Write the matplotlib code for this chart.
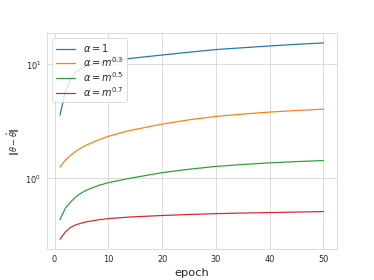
import matplotlib
matplotlib.use("Agg")

import matplotlib.pyplot as plt
import seaborn as sns

# values (log-scale y axis)
epochs = [1, 2, 3, 4, 5, 6, 8, 10, 14, 20, 25, 30, 35, 40, 45, 50]
err_alpha_1 = [3.57, 5.7, 7.4, 8.5, 9.2, 9.7, 10.2, 10.6, 11.2, 12.0,
               12.7, 13.4, 13.9, 14.4, 14.9, 15.3]
err_alpha_m03 = [1.25, 1.44, 1.59, 1.73, 1.85, 1.96, 2.15, 2.33, 2.62, 2.98,
                 3.25, 3.48, 3.65, 3.8, 3.92, 4.03]
err_alpha_m05 = [0.434, 0.546, 0.62, 0.69, 0.745, 0.79, 0.86, 0.915, 1.0, 1.12,
                 1.2, 1.27, 1.32, 1.365, 1.40, 1.43]
err_alpha_m07 = [0.292, 0.338, 0.372, 0.392, 0.405, 0.416, 0.432, 0.443, 0.458,
                 0.472, 0.482, 0.49, 0.496, 0.501, 0.506, 0.511]

labels = [r"$\alpha = 1$", r"$\alpha = m^{0.3}$",
          r"$\alpha = m^{0.5}$", r"$\alpha = m^{0.7}$"]
series = [err_alpha_1, err_alpha_m03, err_alpha_m05, err_alpha_m07]

sns.set_style("whitegrid")

fig = plt.figure(figsize=(6.4, 4.8), dpi=374 / 6.4)
ax = plt.gca()

for vals, lab in zip(series, labels):
    ax.plot(epochs, vals, label=lab)

ax.set_yscale("log")
ax.set_xlabel("epoch", fontsize=14)
ax.set_ylabel(r"$\|\theta - \hat{\theta}\|$", fontsize=10)
ax.legend(loc="upper left", fontsize=12, labelspacing=0.1)

plt.savefig("out.png", dpi=374 / 6.4)
plt.close(fig)
